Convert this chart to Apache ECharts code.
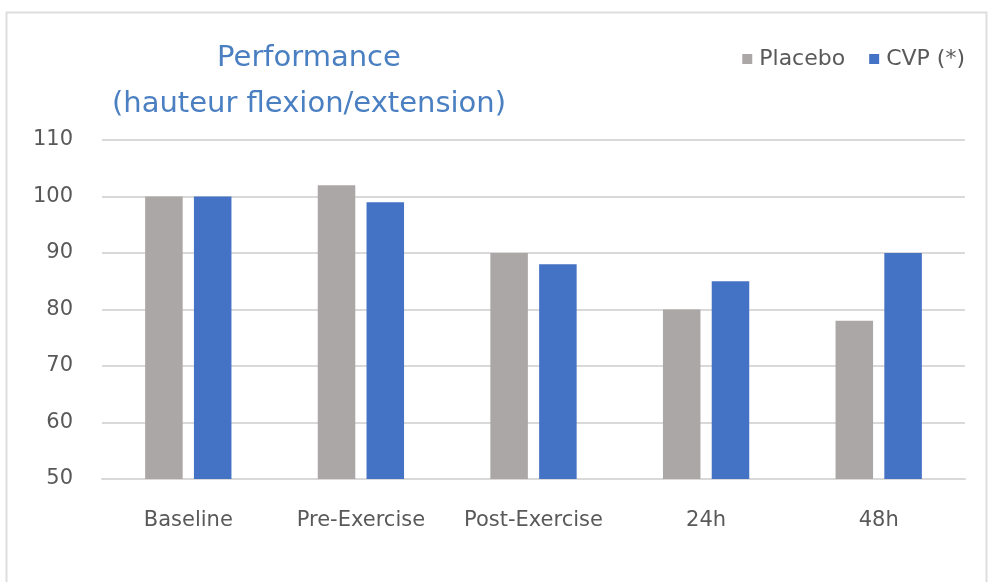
<!DOCTYPE html>
<html>
<head>
<meta charset="utf-8">
<script src="https://cdn.jsdelivr.net/npm/echarts@6/dist/echarts.min.js"></script>
<style>
  html, body { margin: 0; padding: 0; background: #ffffff; }
  #chart { width: 995px; height: 582px; }
</style>
</head>
<body>
<div id="chart"></div>
<script>
// Categories along the x axis
const categories = ['Baseline', 'Pre-Exercise', 'Post-Exercise', '24h', '48h'];

// Series values
const placebo = [100, 102, 90, 80, 78];
const cvp = [100, 99, 88, 85, 90];

// Value axis range
const yMin = 50;
const yMax = 110;
const yStep = 10;

const textFont = '"DejaVu Sans", "Noto Sans", sans-serif';
const labelColor = '#595959';

const chart = echarts.init(document.getElementById('chart'), null, { renderer: 'canvas' });

chart.setOption({
  backgroundColor: '#ffffff',
  animation: false,
  graphic: [{
    type: 'rect',
    shape: { x: 6.5, y: 12.5, width: 980, height: 600 },
    style: { fill: 'none', stroke: '#dedede', lineWidth: 2 },
    silent: true,
    z: -1
  }],
  title: {
    text: 'Performance\n(hauteur flexion/extension)',
    left: 304,
    top: 30,
    textAlign: 'center',
    textStyle: {
      fontFamily: textFont,
      fontWeight: 'normal',
      fontSize: 29,
      lineHeight: 46,
      color: '#4a7fc1'
    }
  },
  legend: {
    right: 25,
    top: 43,
    icon: 'rect',
    itemWidth: 10,
    itemHeight: 10,
    itemGap: 24,
    textStyle: {
      fontFamily: textFont,
      fontSize: 22,
      color: labelColor,
      padding: [0, 0, 0, 2]
    },
    data: ['Placebo', 'CVP (*)']
  },
  grid: {
    left: 102,
    right: 30,
    top: 140,
    bottom: 103,
    containLabel: false
  },
  xAxis: {
    type: 'category',
    data: categories,
    axisLine: { show: true, lineStyle: { color: '#d9d9d9', width: 2 } },
    axisTick: { show: false },
    axisLabel: {
      interval: 0,
      margin: 31,
      fontFamily: textFont,
      fontSize: 21,
      color: labelColor
    }
  },
  yAxis: {
    type: 'value',
    min: yMin,
    max: yMax,
    interval: yStep,
    axisLine: { show: false },
    axisTick: { show: false },
    splitLine: { lineStyle: { color: '#d9d9d9', width: 2 } },
    axisLabel: {
      margin: 29,
      fontFamily: textFont,
      fontSize: 21,
      color: labelColor
    }
  },
  series: [
    {
      name: 'Placebo',
      type: 'bar',
      data: placebo,
      itemStyle: { color: '#aba7a6' },
      barGap: '30%',
      barCategoryGap: '50%'
    },
    {
      name: 'CVP (*)',
      type: 'bar',
      data: cvp,
      itemStyle: { color: '#4472c4' },
      barGap: '30%',
      barCategoryGap: '50%'
    }
  ]
});
</script>
</body>
</html>
